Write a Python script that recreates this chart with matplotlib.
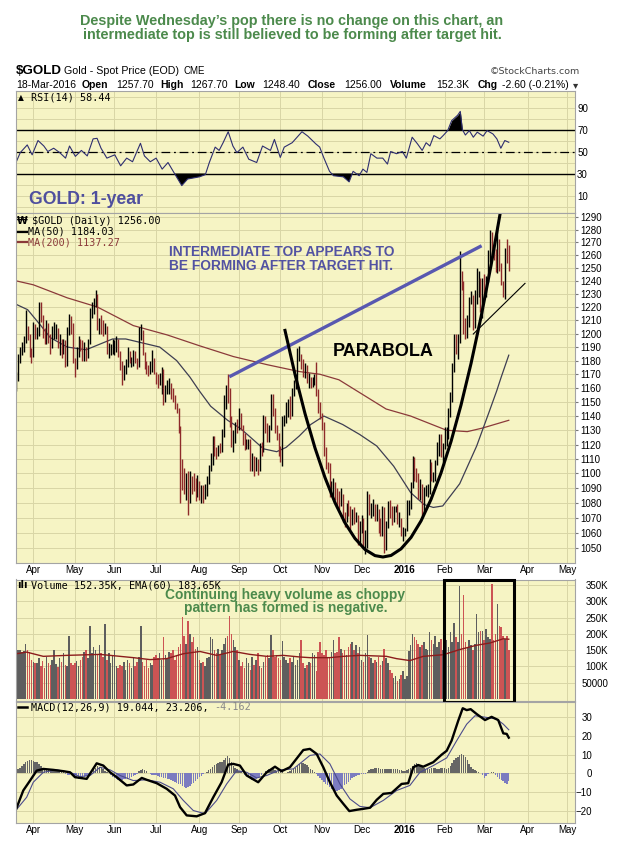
import numpy as np
import pandas as pd
import matplotlib
matplotlib.use("Agg")
import matplotlib.pyplot as plt
from matplotlib.ticker import FixedLocator, NullLocator, FuncFormatter
from matplotlib.patches import Rectangle
from matplotlib.lines import Line2D

plt.rcParams['font.family'] = ['Liberation Sans', 'DejaVu Sans']

# ---------------- data ----------------
close = [1168, 1182, 1187, 1191, 1195, 1204, 1198, 1186, 1184,
         1201, 1200, 1201, 1218, 1211, 1202, 1193, 1205, 1197, 1192, 1200, 1203, 1203, 1191, 1194, 1187, 1193, 1178, 1202, 1211, 1204, 1183,
         1174, 1186, 1193, 1191, 1184, 1189, 1183, 1193, 1216, 1219, 1225, 1228, 1207, 1209, 1205, 1204, 1205, 1187, 1187, 1189, 1190,
         1190, 1194, 1185, 1175, 1168, 1174, 1176, 1185, 1180, 1180, 1185, 1180, 1178, 1201, 1201, 1185, 1177, 1175, 1172, 1174, 1179, 1172,
         1168, 1165, 1168, 1172, 1152, 1159, 1160, 1162, 1156, 1155, 1147, 1145, 1131, 1106, 1103, 1091, 1092, 1085, 1096, 1095, 1094, 1088, 1095,
         1086, 1086, 1085, 1089, 1094, 1104, 1108, 1123, 1116, 1113, 1118, 1117, 1127, 1153, 1160, 1154, 1139, 1124, 1125, 1134, 1133,
         1140, 1133, 1125, 1121, 1121, 1121, 1108, 1109, 1104, 1109, 1103, 1119, 1117, 1138, 1133, 1125, 1131, 1153, 1145, 1131, 1127, 1115,
         1114, 1136, 1137, 1146, 1146, 1142, 1155, 1163, 1166, 1186, 1187, 1176, 1171, 1176, 1166, 1166, 1162, 1165, 1166, 1155, 1146, 1141,
         1135, 1115, 1105, 1104, 1088, 1090, 1092, 1085, 1083, 1081, 1085, 1070, 1068, 1077, 1075, 1068, 1072, 1070, 1070, 1056, 1064,
         1068, 1052, 1053, 1085, 1075, 1076, 1077, 1072, 1075, 1063, 1062, 1072, 1049, 1065, 1080, 1073, 1069, 1076, 1076, 1068, 1068, 1060, 1061,
         1061, 1075, 1078, 1092, 1108, 1098, 1097, 1087, 1087, 1074, 1089, 1089, 1089, 1106, 1097, 1097, 1108, 1120, 1124, 1114, 1117,
         1128, 1128, 1141, 1156, 1174, 1197, 1190, 1195, 1248, 1239, 1209, 1208, 1210, 1226, 1230, 1210, 1229, 1238, 1239, 1220, 1237,
         1231, 1241, 1261, 1271, 1265, 1263, 1257, 1272, 1259, 1238, 1232, 1262, 1259, 1256]
high = [1172, 1185, 1190, 1194, 1198, 1218, 1206, 1200, 1189,
        1209, 1207, 1205, 1224, 1224, 1214, 1204, 1210, 1208, 1200, 1206, 1209, 1207, 1204, 1200, 1196, 1196, 1195, 1205, 1215, 1213, 1208,
        1182, 1190, 1198, 1196, 1195, 1194, 1190, 1196, 1219, 1224, 1227, 1233, 1230, 1212, 1214, 1210, 1208, 1206, 1193, 1192, 1196,
        1195, 1198, 1196, 1187, 1180, 1177, 1181, 1190, 1187, 1183, 1188, 1187, 1182, 1205, 1207, 1203, 1186, 1180, 1177, 1180, 1188, 1182,
        1172, 1170, 1171, 1175, 1174, 1162, 1166, 1167, 1164, 1160, 1155, 1149, 1146, 1133, 1110, 1104, 1100, 1102, 1102, 1098, 1100, 1097, 1099,
        1095, 1092, 1092, 1093, 1098, 1106, 1114, 1126, 1126, 1118, 1120, 1121, 1131, 1155, 1162, 1170, 1160, 1140, 1130, 1136, 1138,
        1146, 1142, 1134, 1128, 1124, 1124, 1124, 1114, 1112, 1111, 1110, 1121, 1122, 1141, 1140, 1135, 1134, 1156, 1156, 1146, 1134, 1128,
        1119, 1140, 1141, 1150, 1152, 1154, 1160, 1166, 1170, 1189, 1191, 1185, 1181, 1178, 1177, 1171, 1168, 1168, 1170, 1179, 1159, 1150,
        1142, 1136, 1118, 1108, 1107, 1095, 1097, 1094, 1090, 1088, 1090, 1086, 1074, 1080, 1082, 1078, 1076, 1077, 1074, 1072, 1068,
        1072, 1070, 1062, 1088, 1086, 1080, 1083, 1079, 1079, 1076, 1070, 1078, 1077, 1068, 1081, 1082, 1078, 1078, 1078, 1079, 1074, 1070, 1064,
        1063, 1082, 1082, 1094, 1112, 1111, 1104, 1100, 1096, 1093, 1091, 1092, 1093, 1110, 1108, 1101, 1109, 1122, 1127, 1127, 1121,
        1132, 1132, 1146, 1157, 1178, 1200, 1200, 1200, 1263, 1248, 1240, 1212, 1214, 1228, 1232, 1229, 1233, 1250, 1248, 1242, 1242,
        1245, 1244, 1264, 1280, 1278, 1267, 1265, 1283, 1273, 1254, 1240, 1266, 1273, 1268]
low = [1158, 1165, 1178, 1184, 1186, 1193, 1195, 1183, 1178,
       1183, 1196, 1196, 1198, 1209, 1197, 1192, 1192, 1193, 1185, 1189, 1196, 1196, 1189, 1184, 1182, 1185, 1175, 1176, 1199, 1200, 1178,
       1168, 1174, 1183, 1187, 1180, 1180, 1180, 1182, 1192, 1212, 1215, 1220, 1203, 1200, 1200, 1198, 1200, 1185, 1182, 1184, 1185,
       1184, 1186, 1183, 1173, 1162, 1166, 1170, 1175, 1178, 1175, 1176, 1178, 1174, 1175, 1195, 1184, 1174, 1170, 1169, 1170, 1172, 1170,
       1163, 1160, 1162, 1156, 1148, 1150, 1156, 1156, 1152, 1150, 1145, 1142, 1128, 1080, 1089, 1086, 1082, 1072, 1080, 1086, 1088, 1081, 1084,
       1082, 1080, 1080, 1083, 1085, 1093, 1102, 1106, 1112, 1110, 1112, 1114, 1115, 1125, 1145, 1149, 1132, 1118, 1115, 1121, 1128,
       1130, 1130, 1120, 1116, 1117, 1117, 1102, 1102, 1098, 1102, 1099, 1102, 1112, 1115, 1128, 1122, 1122, 1130, 1140, 1128, 1123, 1112,
       1108, 1105, 1133, 1135, 1139, 1138, 1140, 1154, 1159, 1162, 1180, 1174, 1168, 1167, 1164, 1160, 1160, 1161, 1162, 1154, 1142, 1138,
       1130, 1112, 1103, 1100, 1084, 1086, 1085, 1082, 1078, 1076, 1078, 1067, 1064, 1067, 1071, 1062, 1065, 1066, 1067, 1052, 1052,
       1060, 1050, 1046, 1050, 1072, 1070, 1071, 1068, 1068, 1060, 1058, 1058, 1047, 1049, 1063, 1070, 1065, 1067, 1074, 1066, 1064, 1058, 1055,
       1058, 1061, 1072, 1076, 1090, 1095, 1094, 1083, 1082, 1071, 1073, 1085, 1084, 1086, 1095, 1094, 1095, 1106, 1112, 1111, 1108,
       1117, 1119, 1124, 1139, 1150, 1172, 1185, 1181, 1193, 1233, 1200, 1196, 1197, 1205, 1222, 1203, 1204, 1222, 1228, 1216, 1212,
       1226, 1228, 1239, 1255, 1260, 1256, 1247, 1246, 1248, 1237, 1228, 1226, 1254, 1248]

volume_k = [148, 150, 152, 145, 148, 170, 150, 145,
            120, 115, 110,
            110, 125, 100, 118, 95, 130, 112, 105, 120, 150, 108, 98, 125, 115, 140, 105,
            100, 193,
            110, 105, 112, 118, 100, 120, 130, 145, 150,
            125, 225,
            140, 160, 150, 135,
            165, 140, 130, 230,
            120, 140, 110, 135, 150, 100, 95,
            105, 100, 115, 90, 120, 110, 95, 125, 100, 115, 130,
            223,
            115, 100, 120, 95, 110, 105,
            130, 135, 125, 140, 120,
            190,
            135, 125, 145, 140, 150, 120, 135, 160, 170,
            252, 193, 170, 240,
            200, 175, 190, 155, 160,
            120, 110, 115, 100, 125, 130,
            190, 185, 150,
            140, 155, 135, 150, 170,
            188, 195, 254,
            200, 180, 160, 150,
            120, 100, 115, 95, 125, 110, 90, 130, 105, 120, 140, 100, 95, 115,
            130, 135, 125, 198, 150,
            130, 135, 125, 120, 178, 130,
            120, 110, 125, 115, 130, 105, 120, 140,
            180,
            110, 95, 105, 115,
            111, 140, 135, 86, 145,
            175,
            140, 135, 150, 125, 130, 145,
            180, 140, 145, 190,
            155, 140, 150, 135, 160,
            170,
            175, 150, 165, 140, 160, 120, 115, 140, 198, 130,
            125, 110, 120, 115, 130, 105, 118, 153, 125, 110,
            90, 80, 65, 70, 55, 60, 75, 85, 60, 70,
            148, 165, 200,
            190, 180, 170, 160, 165, 175, 155, 150,
            205,
            180, 170, 195, 160, 175, 185, 150,
            100, 180, 160, 205, 175, 233, 190, 175,
            347, 200, 318,
            175, 160, 180, 165, 150, 170,
            260,
            205, 210, 210, 180,
            215, 190, 185, 353, 180, 200,
            293, 225, 220,
            195, 185, 195, 152]

vol_ema_idx = [0, 5.5, 14.3, 26.7, 44.4, 62, 70.9, 79.7, 88.5, 97.3, 106.2, 115, 123.8, 132.7, 141.5,
               150.3, 155.6, 166.2, 173.3, 182.1, 196.2, 201.5, 208.6, 215.7, 226.3, 235.1, 243.9, 251, 258.1, 261]
vol_ema_k = [139, 144, 131, 134, 137, 127, 121, 124, 139, 146, 134, 146, 137, 131, 134,
             129, 127, 127, 131, 134, 131, 124, 118, 131, 136, 152, 165, 172, 185, 183.6]

ma50_idx = [0, 6, 13, 18, 27, 37, 44, 51, 58, 67, 76, 85, 92, 97, 103, 112, 119, 125, 131, 138,
            143, 150, 156, 163, 173, 182, 191, 200, 209, 216, 221, 226, 235, 244, 250.6, 254.6, 257, 261]
ma50_val = [1222, 1218, 1206, 1197, 1190, 1188, 1192, 1196, 1196, 1193, 1190, 1180, 1168, 1158, 1147, 1137, 1131, 1124, 1117, 1115,
            1118, 1126, 1134, 1140, 1134, 1127, 1119, 1105, 1087, 1079, 1077, 1078, 1093, 1119, 1143, 1158, 1168, 1184]

ma200_idx = [0, 9, 27, 43, 62, 80, 97, 115, 133, 150, 161, 171, 196, 209, 228, 239, 247, 261]
ma200_val = [1240, 1237, 1227, 1220, 1206, 1199, 1191, 1183, 1177, 1172, 1170, 1166, 1145, 1140, 1130, 1129, 1131.5, 1137]

rsi_idx = [0, 2.1, 5.8, 8.4, 11.5, 14.6, 16.7, 19.8, 23, 26.1, 28.2, 31.3, 34.5, 37.6, 40.7, 42.8, 44.9, 48, 52.2, 55.3,
           58.5, 61.6, 65.8, 67.9, 71, 74.1, 77.3, 80.4, 83.5, 87.7, 90.8, 94, 97.1, 100.2, 102.3, 105.4, 107.5, 109.6, 112.3, 114.8,
           116.9, 120.1, 123.2, 127.4, 130.5, 134.7, 136.8, 139.9, 142, 146.2, 151.4, 154.5, 158.7, 160.8, 162.9, 166, 168.1, 173.3, 176.4, 178.5,
           181.7, 183.7, 185.8, 187.9, 191.1, 194.2, 196.7, 198.4, 201.5, 204.6, 206.7, 209.8, 212.6, 215.1, 217.2, 219.2, 221.3, 224.5, 226.5, 228.6,
           230.7, 233.9, 235.3, 236.4, 238, 240.1, 242.2, 244.3, 247.4, 249.5, 252.6, 254.7, 256.8, 258.9, 261]
rsi_val = [40.7, 49, 56, 47, 60, 55, 50, 53, 49, 44, 55, 45.6, 51, 46, 61.5, 62, 53, 44, 47, 37,
           44, 40.7, 57.5, 46, 40.7, 44, 34, 40, 31, 19, 25, 26, 27, 29, 40, 54, 51, 58, 68, 55,
           49, 54, 43, 40, 55, 51, 61, 44.6, 54, 58, 68, 64, 57, 54, 44.6, 32, 28, 27, 22.4, 32,
           28, 34, 31, 48, 44, 44, 38.6, 50, 48, 50, 44, 63, 57, 51, 58, 55, 64.5, 61.5, 65, 69,
           78, 83, 86.5, 70, 65, 69, 63, 67.6, 64, 69, 66, 61.5, 53, 60, 58.4]

macd_idx = [0, 3.7, 7.3, 10.8, 14.3, 19.6, 24.9, 28.5, 31.1, 37.3, 42.6, 46.1, 49.7, 53.2, 58.5, 62, 66.5, 69.1, 74.4, 79.7,
            84.1, 86.8, 90.3, 95.6, 100, 104.4, 108.8, 112.3, 115, 118.5, 122.1, 128.2, 132.7, 137.1, 140.6, 145, 152.1, 155.6, 159.2, 162.7,
            166.2, 169.8, 173.3, 176.5, 180.4, 183.9, 187.5, 191, 194.5, 198.9, 204.2, 207.7, 210.4, 213, 215.7, 221, 225.4, 228.1, 230.7, 234.2,
            236.6, 238.7, 240.8, 244, 248.4, 251.9, 255.4, 258.1, 259.9, 261]
macd_val = [-18.9, -9.2, -3.9, 1.4, 2.3, 1.8, 1.1, 0.5, -2.1, -3.0, 5.3, 4.1, 0.5, -2.1, -6.5, -6.0, -2.5, -3.5, -5.3, -8.3,
            -11.9, -18.1, -22.5, -23.0, -21.3, -12.8, -4.8, 4.6, 5.0, 4.1, -1.2, -4.8, 0.5, 3.5, 1.1, 3.2, 12.4, 13.0, 10.3, 3.2,
            -4.8, -11.9, -16.3, -20.2, -19.5, -19.0, -18.4, -14.2, -11.0, -10.5, -5.7, -5.3, 3.2, 4.4, 3.5, 5.9, 9.9, 12.0, 17.4, 28.0,
            34.7, 33.7, 34.2, 31.6, 28.4, 30.1, 28.4, 21.3, 21.0, 19.0]

signal_idx = [0, 5.5, 9, 14.3, 21.4, 28.5, 33.8, 39.1, 44.4, 49.7, 55, 62, 69.1, 76.2, 83.2, 88.5, 93.8, 100, 106.2, 111.5,
              116.8, 122.1, 127.4, 132.7, 139.7, 146.8, 155.6, 160.9, 166.2, 171.5, 176.8, 182.1, 187.5, 194.5, 201.6, 208.6, 213.9, 221, 228.1, 233.4,
              238.7, 243.1, 249.3, 254.6, 258.1, 261]
signal_val = [-19.5, -12.8, -4.8, 0.5, 1.8, 0.5, -1.8, -1.2, 3.2, 1.8, -1.2, -3.9, -3.5, -4.8, -8.3, -14.5, -19.9, -21.6, -14.5, -5.7,
              1.4, 0.5, -2.5, -1.2, 1.8, 2.3, 9.5, 10.3, 5.0, -5.7, -13.7, -17.7, -18.4, -14.5, -9.2, -6.5, 0.5, 4.1, 8.2, 17.4,
              26.2, 30.7, 29.8, 28.9, 26.2, 23.2]

hist_val = [1, 2, 3, 4,
            5, 6, 6.5, 7, 7, 6.5, 6, 6, 5, 4,
            3, 2.5, 2, 2, 1.5, 1.5, 1, 1.5, 1.5, 1, 1, 0.5,
            -0.5, -1, -1, -0.5,
            -1, -2, -2.5, -3, -3, -2.5, -2, -1.5, -1, 0, 1,
            2, 3, 4, 3.5, 3, 2,
            1, 0.5, 0,
            -1, -2, -2.5, -3, -3.5, -4, -3.5, -3, -3, -3, -2.5, -2, -1.5, -1, -0.5,
            1, 1.5, 2, 1.5, 1,
            0, -0.5, -1, -1, -1,
            -1.5, -2, -2, -2.5, -2.5, -3, -3, -3.5, -4, -4.5, -5, -5.5, -6, -7, -7.5, -8, -7.5, -7, -6, -5, -4, -3, -2, -1.5, -0.5,
            0, 0.5,
            1.5, 2.5, 3.5, 4.5, 5, 5.5, 6, 6, 7, 8, 9, 8, 6, 4,
            3, 2, 1, 1, 0, -1, -1.5,
            -2, -3, -3.5, -3.5, -3, -2.5, -2, -1,
            0, 1, 1.5, 2, 2.5, 2, 1.5, 1, 1.5, 1, 0.5,
            0, 0, 0.5,
            1, 1.5, 2, 3, 4, 5, 5.5, 5.5, 5, 4.5,
            3.5, 2.5, 1.5, 0.5,
            -0.5, -1.5, -2.5, -3.5, -4.5, -5.5, -6.5, -7.5, -8.5, -9, -9.5, -9.5, -9, -8.5, -7.5, -6.5, -5.5, -4.5, -3.5, -2.5, -2,
            -1.5, -1, -1, -0.5, -0.5, -0.5,
            0.5, 1.5, 2, 2.5, 3, 3, 3, 2.5, 2.5, 2, 2, 2.5, 2.5, 2.5, 2, 2,
            2, 1.5, 1.5, 1, 1, 1.5, 2,
            3, 4, 5, 5.5, 5, 4, 3.5, 3, 2.5,
            2.5, 2.5, 3, 3, 3, 2.5, 2.5, 3, 3, 3, 2.5,
            3, 4, 5.5, 7, 8, 8.5, 9.5, 10.5, 10, 8.5, 7, 5, 3.5,
            2, 1.5, 1, 0.5, 0,
            -1, -2.5, -1.5, -0.5, 0, 0.5, 0.5,
            -1, -2, -3, -3.5, -4, -5, -5.5, -4.2]

month_labels = ['Apr', 'May', 'Jun', 'Jul', 'Aug', 'Sep', 'Oct', 'Nov', 'Dec', '2016', 'Feb', 'Mar', 'Apr', 'May']
price_ticks = list(range(1050, 1291, 10))
rsi_ticks = [90, 70, 50, 30, 10]
vol_ticks = [50, 100, 150, 200, 250, 300, 350]
vol_tick_labels = ['50000', '100K', '150K', '200K', '250K', '300K', '350K']
macd_ticks = [-20, -10, 0, 10, 20, 30]

# annotation lines (bar index, price)
blue_trend_idx = [112.9, 246.6]
blue_trend_price = [1168.2, 1267.4]
thin_trend_idx = [242.2, 269.6]
thin_trend_price = [1199.7, 1238.1]
parabola_idx = [142.4, 147.7, 153.0, 158.3, 163.6, 168.9, 174.2, 179.5, 184.8, 190.1, 194.3, 198.6,
                203.9, 209.2, 214.5, 219.8, 225.1, 230.4, 235.7, 241.0, 246.3, 251.6, 256.3]
parabola_price = [1202.4, 1170.0, 1141.8, 1117.6, 1097.2, 1080.2, 1066.7, 1056.4, 1049.2, 1045.2, 1044.3, 1045.3,
                  1049.6, 1057.1, 1068.0, 1082.4, 1100.4, 1122.1, 1147.9, 1177.9, 1212.5, 1252.0, 1292.0]

# ---------------- figure ----------------
W, H = 620, 852
fig = plt.figure(figsize=(6.2, 8.52), dpi=100)
fig.patch.set_facecolor('white')

BG = '#F6F4C4'
GRID = '#D9D6A6'
SPINE = '#A4A4A4'
GREEN = '#4C8A4C'
SLATE = '#4F4F9E'
DOWN = '#8E2A2A'
XL = (-0.32, 296.1)
MONO = 'DejaVu Sans Mono'


def add_axes(x0, x1, ytop, ybot):
    return fig.add_axes([x0 / W, 1 - ybot / H, (x1 - x0) / W, (ybot - ytop) / H])


def T(x, y, s, size, color='black', weight='normal', ha='left', family=None, va='center'):
    kw = {}
    if family is not None:
        kw['family'] = family
    return fig.text(x / W, 1 - y / H, s, fontsize=size, color=color, fontweight=weight,
                    ha=ha, va=va, **kw)


n = len(close)
idx = np.arange(n)
cl = np.array(close, float)
hi = np.array(high, float)
lo = np.array(low, float)
up = np.r_[True, cl[1:] >= cl[:-1]]

dates = pd.bdate_range('2015-03-19', periods=330)
ms = [k for k in range(1, len(dates)) if dates[k].month != dates[k - 1].month][:len(month_labels)]


def style(ax, show_x):
    ax.set_facecolor(BG)
    ax.set_xlim(*XL)
    for s in ax.spines.values():
        s.set_color(SPINE)
        s.set_linewidth(0.8)
    ax.yaxis.tick_right()
    ax.set_xticks(ms)
    if show_x:
        ax.set_xticklabels(month_labels)
        for lab in ax.get_xticklabels():
            if lab.get_text() == '2016':
                lab.set_fontweight('bold')
    else:
        ax.set_xticklabels([])
    ax.tick_params(axis='x', length=0, labelsize=7, pad=2)
    ax.tick_params(axis='y', which='minor', length=0)
    ax.grid(True, which='both', color=GRID, lw=0.7)
    ax.set_axisbelow(True)


ax_r = add_axes(15.7, 575, 90.7, 213)
ax_p = add_axes(15.7, 575, 213, 562.7)
ax_v = add_axes(15.7, 575, 579.5, 700.5)
ax_m = add_axes(15.7, 575, 701.5, 822.7)

# ---- RSI ----
style(ax_r, False)
ax_r.set_ylim(-5.9, 105.3)
ax_r.yaxis.set_major_locator(FixedLocator(rsi_ticks))
ax_r.yaxis.set_minor_locator(FixedLocator([0, 20, 40, 60, 80, 100]))
ax_r.tick_params(axis='y', which='major', length=0, labelsize=7, pad=1.5)
rv = np.array(rsi_val)
ax_r.fill_between(rsi_idx, rv, 70, where=rv >= 70, interpolate=True, color='black', lw=0)
ax_r.fill_between(rsi_idx, rv, 30, where=rv <= 30, interpolate=True, color='black', lw=0)
ax_r.axhline(70, color='black', lw=1.0)
ax_r.axhline(30, color='black', lw=1.0)
ax_r.axhline(50, color='black', lw=0.9, ls=(0, (7, 3, 1.5, 3)))
ax_r.plot(rsi_idx, rsi_val, color='#2E2E70', lw=0.8)

# ---- Price ----
ax_p.set_yscale('log')
style(ax_p, True)
ax_p.set_ylim(1040.6, 1293.5)
ax_p.yaxis.set_major_locator(FixedLocator(price_ticks))
ax_p.yaxis.set_major_formatter(FuncFormatter(lambda v, p: f'{v:.0f}'))
ax_p.yaxis.set_minor_locator(NullLocator())
ax_p.tick_params(axis='y', which='major', length=2, labelsize=7, pad=1.5, color='#777777')
ax_p.plot(ma200_idx, ma200_val, color='#8B3A3A', lw=0.9)
ax_p.plot(ma50_idx, ma50_val, color='#3E3E52', lw=0.9)
ax_p.vlines(idx[up], lo[up], hi[up], color='black', lw=1.0)
ax_p.vlines(idx[~up], lo[~up], hi[~up], color=DOWN, lw=1.0)
ax_p.plot(blue_trend_idx, blue_trend_price, color='#5858B0', lw=2.4, solid_capstyle='butt')
ax_p.plot(thin_trend_idx, thin_trend_price, color='black', lw=0.8)
ax_p.plot(parabola_idx, parabola_price, color='black', lw=2.2)

# ---- Volume ----
style(ax_v, False)
ax_v.set_ylim(-4.6, 367)
ax_v.yaxis.set_major_locator(FixedLocator(vol_ticks))
ax_v.set_yticklabels(vol_tick_labels)
ax_v.tick_params(axis='y', which='major', length=0, labelsize=7, pad=23.8)
for lab in ax_v.get_yticklabels():
    lab.set_horizontalalignment('right')
ax_v.bar(idx, volume_k, width=0.8, color=np.where(up, '#5E5E5E', '#CC5454'), edgecolor='none')
ax_v.plot(vol_ema_idx, vol_ema_k, color='#8B1C1C', lw=1.0)
ax_v.add_patch(Rectangle((226.8, -9.9), 263.9 - 226.8, 374.9, fill=False, lw=2.2,
                         ec='black', clip_on=False, zorder=5))

# ---- MACD ----
style(ax_m, True)
ax_m.set_ylim(-26.4, 38.3)
ax_m.yaxis.set_major_locator(FixedLocator(macd_ticks))
ax_m.tick_params(axis='y', which='major', length=0, labelsize=7, pad=12.2)
for lab in ax_m.get_yticklabels():
    lab.set_horizontalalignment('right')
hv = np.array(hist_val)
ax_m.bar(np.arange(len(hv)), hv, width=0.75, color=np.where(hv >= 0, '#666666', '#7C7CC0'), edgecolor='none')
ax_m.plot(signal_idx, signal_val, color='#4C4C8C', lw=0.8)
ax_m.plot(macd_idx, macd_val, color='black', lw=1.7)

# ---------------- texts ----------------
T(292, 20.7, 'Despite Wednesday\u2019s pop there is no change on this chart, an', 10.4, GREEN, 'bold', ha='center')
T(292, 34.5, 'intermediate top is still believed to be forming after target hit.', 10.4, GREEN, 'bold', ha='center')

T(16, 71, '$GOLD', 9.6, weight='bold')
T(64, 71.5, 'Gold - Spot Price (EOD)', 7.7)
T(184, 71.5, 'CME', 7.0)
T(580, 71.5, '\u00a9StockCharts.com', 6.8, color='#444444', ha='right', family='DejaVu Sans')

info = [(16, '18-Mar-2016', 'normal'), (82, 'Open', 'bold'), (116, '1257.70', 'normal'),
        (160, 'High', 'bold'), (190, '1267.70', 'normal'), (234, 'Low', 'bold'),
        (262, '1248.40', 'normal'), (308, 'Close', 'bold'), (344, '1256.00', 'normal'),
        (390, 'Volume', 'bold'), (436, '152.3K', 'normal'), (478, 'Chg', 'bold'),
        (502, '-2.60 (-0.21%)', 'normal')]
for x, s, wgt in info:
    T(x, 84.5, s, 7.5, weight=wgt)
T(573, 85, '\u25be', 7.5, color='#333333', family='DejaVu Sans')

# panel legends
T(17.5, 97.8, '\u25b2', 5.5, family='DejaVu Sans')
T(30.7, 98.0, 'RSI(14) 58.44', 7.3, family=MONO)

T(29, 199.5, 'GOLD: 1-year', 12.7, SLATE, 'bold')

T(17, 221.3, '\u20a9', 7, weight='bold', family='DejaVu Sans')
T(31.7, 221.3, '$GOLD (Daily) 1256.00', 7.3, family=MONO)
fig.add_artist(Line2D([18 / W, 27 / W], [1 - 231.7 / H] * 2, color='black', lw=1.6))
T(28.3, 231.7, 'MA(50) 1184.03', 7.3, family=MONO)
fig.add_artist(Line2D([18 / W, 27 / W], [1 - 242.3 / H] * 2, color='#8B3A3A', lw=1.6))
T(28.3, 242.3, 'MA(200) 1137.27', 7.3, '#8B3A3A', family=MONO)

T(169.3, 251.8, 'INTERMEDIATE TOP APPEARS TO', 9.9, '#5252A2', 'bold')
T(169.3, 265.8, 'BE FORMING AFTER TARGET HIT.', 9.9, '#5252A2', 'bold')
T(333, 351.5, 'PARABOLA', 13, 'black', 'bold')

T(17.5, 585, '\u0131l\u0131', 7, weight='bold', family='DejaVu Sans')
T(30.7, 585.2, 'Volume 152.35K, EMA(60) 183.65K', 7.3, family=MONO)
T(285, 595, 'Continuing heavy volume as choppy', 9.9, GREEN, 'bold', ha='center')
T(285.3, 608.3, 'pattern has formed is negative.', 9.9, GREEN, 'bold', ha='center')

fig.add_artist(Line2D([18 / W, 27 / W], [1 - 707.3 / H] * 2, color='black', lw=1.8))
renderer = fig.canvas.get_renderer()
t1 = T(30.7, 707.3, 'MACD(12,26,9) 19.044, 23.206,', 7.3, family=MONO)
w1 = t1.get_window_extent(renderer=renderer).width
cw = w1 / len('MACD(12,26,9) 19.044, 23.206,')
T(30.7 + w1 + cw, 707.3, '-4.162', 7.3, '#888888', family=MONO)

fig.savefig('out.png', dpi=100, facecolor='white')
